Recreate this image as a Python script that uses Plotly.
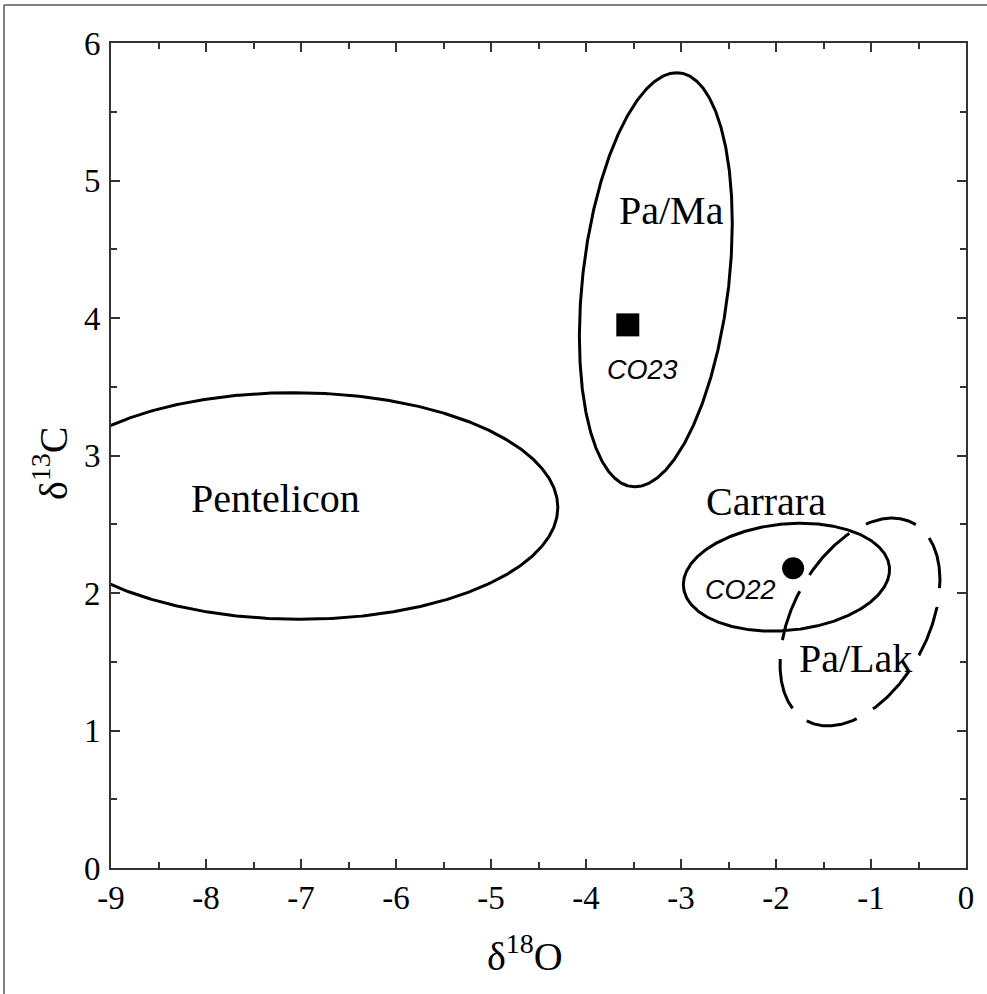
import numpy as np
import plotly.graph_objects as go

# ---- data ----
# Ellipse fields: centre (x, y), and outline parameters:
# y = cy + C*cos(t); x = cx + A*cos(t) + B*sin(t)
field_names = ["Pentelicon", "Pa/Ma", "Carrara", "Pa/Lak"]
field_cx = [-7.045, -3.265, -1.89, -1.116]
field_cy = [2.633, 4.278, 2.115, 1.789]
field_A = [-0.035, 0.22, 0.15, 0.34]
field_B = [2.748, 0.774, 1.075, 0.77]
field_C = [0.824, 1.506, 0.392, 0.756]
field_dash = ["solid", "solid", "solid", "52px,19px"]
field_start_deg = [0, 0, 0, -60]

label_text = ["Pentelicon", "Pa/Ma", "Carrara", "Pa/Lak"]
label_x = [-7.27, -3.10, -2.105, -1.163]
label_y = [2.69, 4.785, 2.662, 1.527]

sample_names = ["CO23", "CO22"]
sample_x = [-3.56, -1.82]
sample_y = [3.95, 2.18]
sample_symbol = ["square", "circle"]
sample_size = [23, 22]
sample_label_x = [-3.405, -2.376]
sample_label_y = [3.622, 2.022]

x_range = [-9, 0]
y_range = [0, 6]
x_tickvals = [-9, -8, -7, -6, -5, -4, -3, -2, -1, 0]
x_ticktext = ["-9", "-8", "-7", "-6", "-5", "-4", "-3", "-2", "-1", "0"]
y_tickvals = [0, 1, 2, 3, 4, 5, 6]
y_ticktext = ["0", "1", "2", "3", "4", "5", "6"]

SERIF = "Liberation Serif"
SANS = "Liberation Sans"

fig = go.Figure()

for i, name in enumerate(field_names):
    t = np.deg2rad(np.linspace(field_start_deg[i], field_start_deg[i] + 360, 721))
    xs = field_cx[i] + field_A[i] * np.cos(t) + field_B[i] * np.sin(t)
    ys = field_cy[i] + field_C[i] * np.cos(t)
    fig.add_trace(go.Scatter(x=xs, y=ys, mode="lines", name=name,
                             line=dict(color="black", width=3, dash=field_dash[i]),
                             hoverinfo="skip", showlegend=False))

for i, name in enumerate(sample_names):
    fig.add_trace(go.Scatter(x=[sample_x[i]], y=[sample_y[i]], mode="markers", name=name,
                             marker=dict(symbol=sample_symbol[i], size=sample_size[i], color="black",
                                         line=dict(width=0)),
                             showlegend=False))
    fig.add_annotation(x=sample_label_x[i], y=sample_label_y[i], text=f"<i>{name}</i>",
                       showarrow=False, xanchor="center", yanchor="middle",
                       font=dict(family=SANS, size=27, color="black"))

for i, txt in enumerate(label_text):
    fig.add_annotation(x=label_x[i], y=label_y[i], text=txt, showarrow=False,
                       xanchor="center", yanchor="middle",
                       font=dict(family=SERIF, size=40, color="black"))

axis_line = "#333333"

fig.update_layout(
    width=987, height=994,
    margin=dict(l=111, r=21, t=43, b=126),
    paper_bgcolor="white", plot_bgcolor="white",
    font=dict(family=SERIF, size=33, color="black"),
    showlegend=False,
)
fig.update_xaxes(
    range=x_range, tickmode="array", tickvals=x_tickvals, ticktext=x_ticktext,
    showgrid=False, zeroline=False, showline=True, linecolor=axis_line, linewidth=2, mirror="ticks",
    ticks="inside", tickcolor=axis_line, tickwidth=2, ticklen=9,
    tickfont_family=SERIF, tickfont_size=33, tickfont_color="black",
    ticklabelstandoff=-1,
    minor=dict(dtick=0.5, tick0=-9, ticks="inside", ticklen=6, tickcolor=axis_line, tickwidth=2),
)
fig.update_yaxes(
    range=y_range, tickmode="array", tickvals=y_tickvals, ticktext=y_ticktext,
    showgrid=False, zeroline=False, showline=True, linecolor=axis_line, linewidth=2, mirror="ticks",
    ticks="inside", tickcolor=axis_line, tickwidth=2, ticklen=9,
    tickfont_family=SERIF, tickfont_size=33, tickfont_color="black",
    ticklabelstandoff=2,
    minor=dict(dtick=0.5, tick0=0, ticks="inside", ticklen=6, tickcolor=axis_line, tickwidth=2),
)

# axis titles
fig.add_annotation(xref="paper", yref="paper", x=(525 - 111) / 855, y=(868 - 953) / 825,
                   xanchor="center", yanchor="middle",
                   text="δ<sup>18</sup>O", showarrow=False,
                   font=dict(family=SERIF, size=40, color="black"))
fig.add_annotation(xref="paper", yref="paper", x=(51 - 111) / 855, y=(868 - 463) / 825,
                   xanchor="center", yanchor="middle",
                   text="δ<sup>13</sup>C", showarrow=False, textangle=-90,
                   font=dict(family=SERIF, size=40, color="black"))

# outer frame of the picture (top and left edges)
fig.add_shape(type="line", xref="paper", yref="paper", x0=(4 - 111) / 855, x1=(987 - 111) / 855,
              y0=(868 - 5) / 825, y1=(868 - 5) / 825, line=dict(color="#555555", width=1.5))
fig.add_shape(type="line", xref="paper", yref="paper", x0=(4 - 111) / 855, x1=(4 - 111) / 855,
              y0=(868 - 5) / 825, y1=(868 - 994) / 825, line=dict(color="#555555", width=1.5))

fig.write_html("out.html")
